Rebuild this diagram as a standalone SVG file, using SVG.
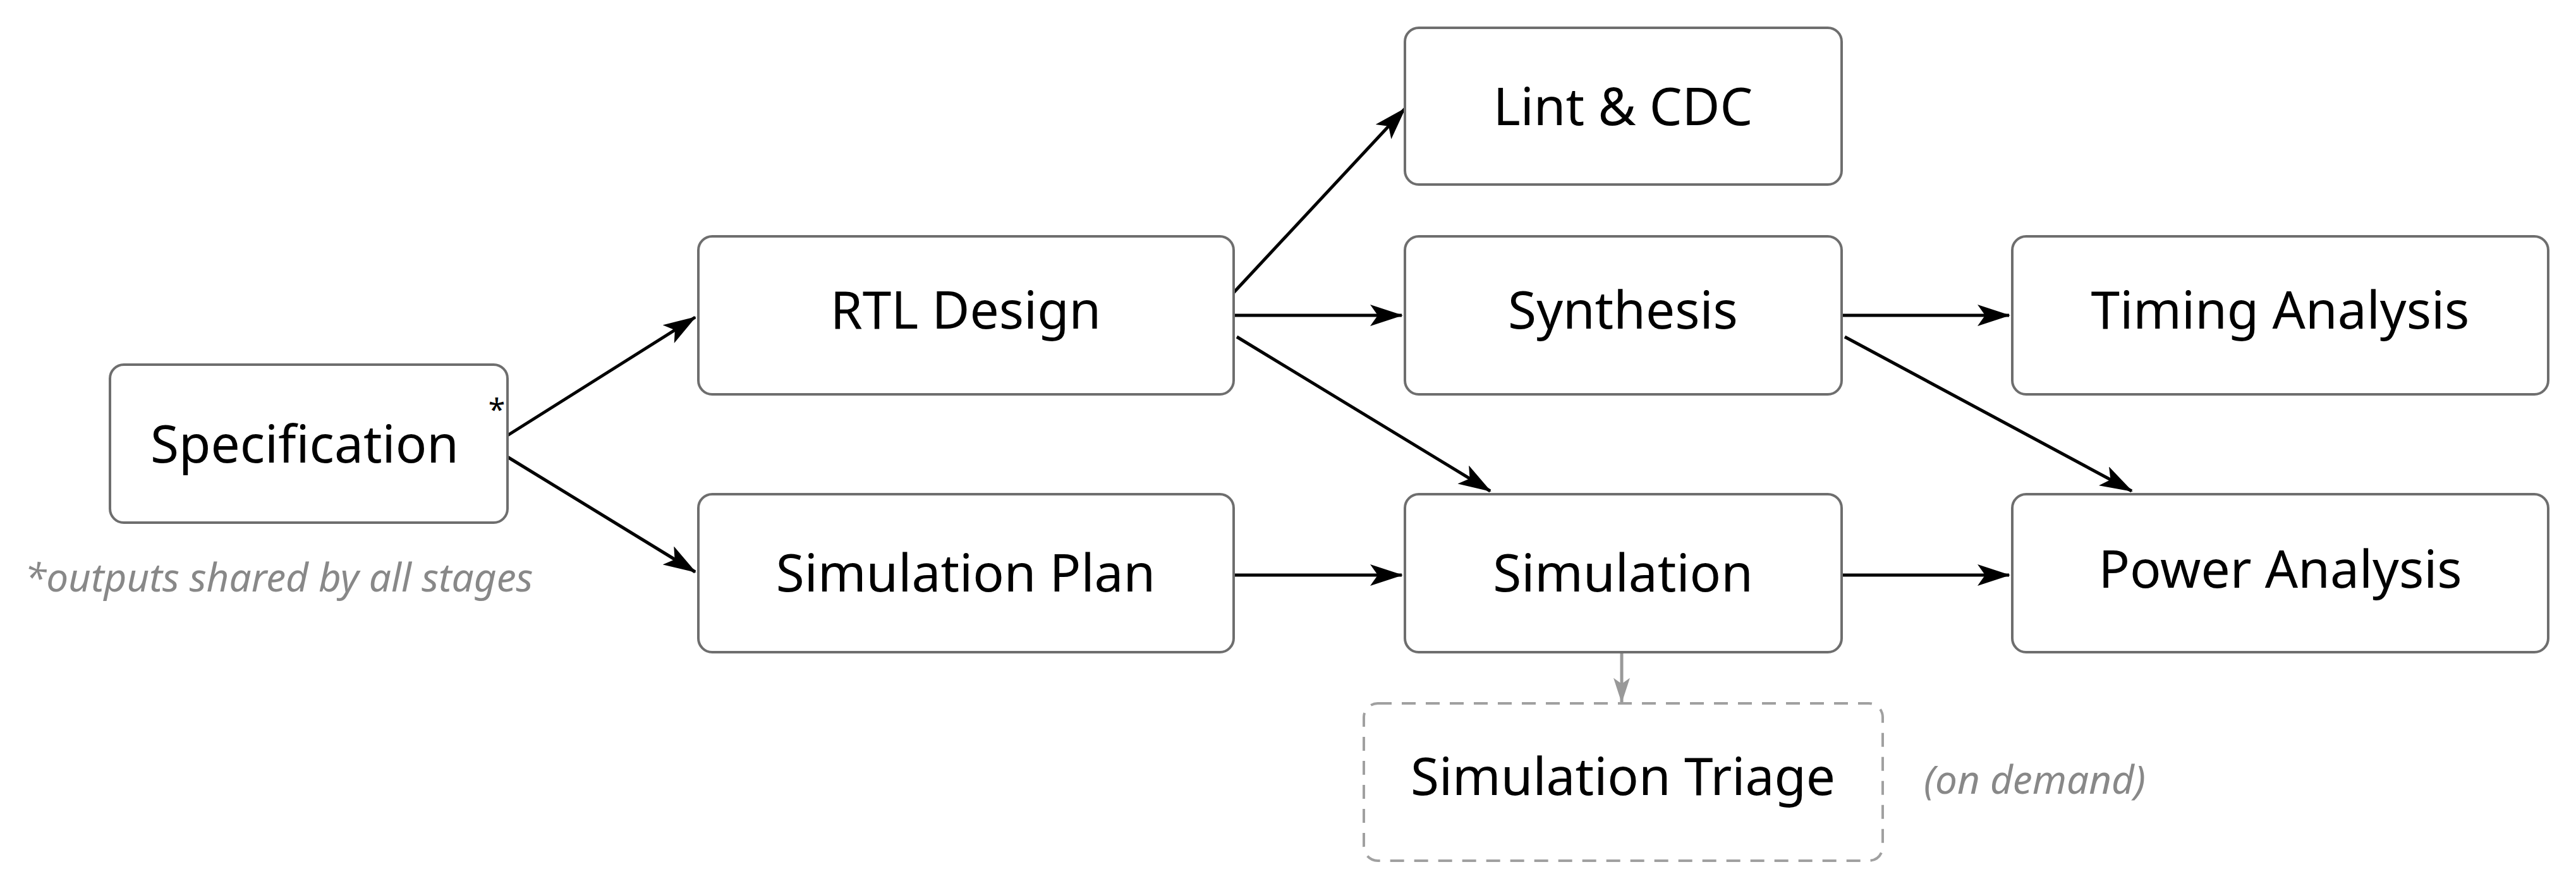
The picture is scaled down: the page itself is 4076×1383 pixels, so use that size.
<svg xmlns="http://www.w3.org/2000/svg" width="4076" height="1383" viewBox="0 0 4076 1383">
<style>
.box{fill:#fff;stroke:#6e6e6e;stroke-width:4}
.dash{fill:#fff;stroke:#a0a0a0;stroke-width:4;stroke-dasharray:22 16}
.t{font-family:"Noto Sans","Open Sans",sans-serif;font-size:82px;fill:#000;text-anchor:middle}
.n{font-family:"Noto Sans","Open Sans",sans-serif;font-style:italic;font-size:62px;fill:#888}
.c{stroke:#000;stroke-width:5;fill:none;marker-end:url(#a)}
.g{stroke:#999;stroke-width:5;fill:none;marker-end:url(#ag)}
</style>
<defs>
<marker id="a" viewBox="0 0 52 34" refX="50" refY="17" markerWidth="52" markerHeight="34" markerUnits="userSpaceOnUse" orient="auto"><path d="M0,0 L52,17 L0,34 L12,17z" fill="#000"/></marker>
<marker id="ag" viewBox="0 0 52 34" refX="50" refY="17" markerWidth="40" markerHeight="26" markerUnits="userSpaceOnUse" orient="auto"><path d="M0,0 L52,17 L0,34 L12,17z" fill="#999"/></marker>
</defs>
<rect width="4076" height="1383" fill="#fff"/>
<g id="connectors">
<line class="c" x1="803" y1="689" x2="1100" y2="502"/>
<line class="c" x1="803" y1="723" x2="1100" y2="905"/>
<line class="c" x1="1952" y1="463" x2="2223" y2="172"/>
<line class="c" x1="1952" y1="499" x2="2218" y2="499"/>
<line class="c" x1="1957" y1="533" x2="2358" y2="777"/>
<line class="c" x1="1952" y1="910" x2="2218" y2="910"/>
<line class="c" x1="2914" y1="499" x2="3179" y2="499"/>
<line class="c" x1="2919" y1="533" x2="3373" y2="777"/>
<line class="c" x1="2914" y1="910" x2="3179" y2="910"/>
<line class="g" x1="2566" y1="1034" x2="2566" y2="1111"/>
</g>
<g id="spec"><rect class="box" x="174" y="577" width="629" height="250" rx="22"/><text class="t" x="482" y="732">Specification</text><text x="786" y="665" font-family="Noto Sans,sans-serif" font-size="48" text-anchor="middle">*</text></g>
<text class="n" x="39" y="936">*outputs shared by all stages</text>
<g id="rtl"><rect class="box" x="1105" y="374" width="847" height="250" rx="22"/><text class="t" x="1528" y="520">RTL Design</text></g>
<g id="simplan"><rect class="box" x="1105" y="782" width="847" height="250" rx="22"/><text class="t" x="1528" y="936">Simulation Plan</text></g>
<g id="lint"><rect class="box" x="2223" y="44" width="691" height="248" rx="22"/><text class="t" x="2568" y="198">Lint &amp; CDC</text></g>
<g id="synth"><rect class="box" x="2223" y="374" width="691" height="250" rx="22"/><text class="t" x="2568" y="520">Synthesis</text></g>
<g id="sim"><rect class="box" x="2223" y="782" width="691" height="250" rx="22"/><text class="t" x="2568" y="936">Simulation</text></g>
<g id="timing"><rect class="box" x="3184" y="374" width="848" height="250" rx="22"/><text class="t" x="3608" y="520">Timing Analysis</text></g>
<g id="power"><rect class="box" x="3184" y="782" width="848" height="250" rx="22"/><text class="t" x="3608" y="930">Power Analysis</text></g>
<g id="triage"><rect class="dash" x="2158" y="1113" width="821" height="249" rx="22"/><text class="t" x="2568" y="1258">Simulation Triage</text></g>
<text class="n" x="3044" y="1256">(on demand)</text>
</svg>
